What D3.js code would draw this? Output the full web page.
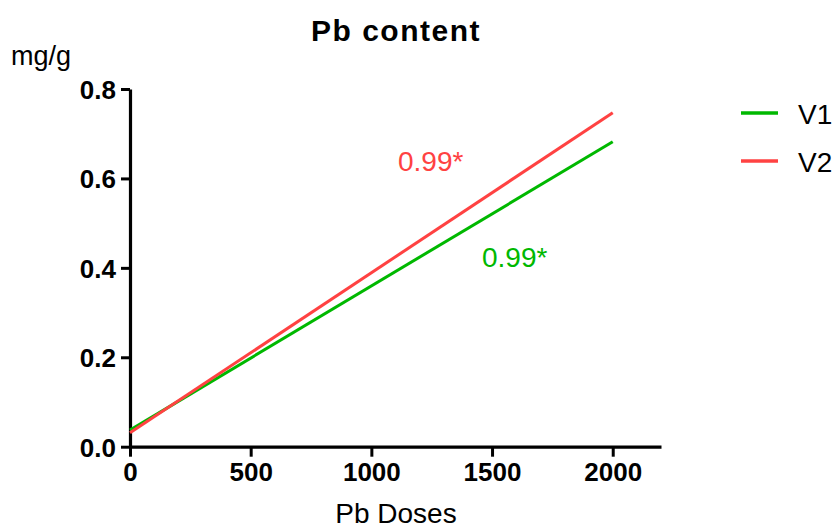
<!DOCTYPE html>
<html>
<head>
<meta charset="utf-8">
<script src="https://cdn.jsdelivr.net/npm/d3@7"></script>
<style>
  html, body { margin: 0; padding: 0; background: #fff; }
  svg { display: block; font-family: "Liberation Sans", Arial, sans-serif; }
</style>
</head>
<body>
<svg id="chart" width="837" height="530"></svg>
<script>
// Regression lines of Pb content against Pb dose (fitted end points)
const doses = [0, 2000];
const v1 = [0.037, 0.682];
const v2 = [0.031, 0.747];
const seriesNames = ["V1", "V2"];
const seriesColors = ["#00b800", "#ff4242"];
const rLabels = ["0.99*", "0.99*"];
const xTicks = [0, 500, 1000, 1500, 2000];
const yTicks = [0.0, 0.2, 0.4, 0.6, 0.8];

const svg = d3.select("#chart");
const margin = { left: 130, top: 89, right: 176, bottom: 83 };
const W = 837, H = 530;

const x = d3.scaleLinear().domain([0, 2200]).range([margin.left, W - margin.right]);
const y = d3.scaleLinear().domain([0, 0.8]).range([H - margin.bottom - 0.3, margin.top]);

// Title and axis titles
svg.append("text")
  .attr("x", 396).attr("y", 41)
  .attr("text-anchor", "middle")
  .attr("font-size", 30).attr("font-weight", "bold")
  .attr("letter-spacing", 1.5)
  .text("Pb content");

svg.append("text")
  .attr("x", 11).attr("y", 65)
  .attr("font-size", 27)
  .text("mg/g");

svg.append("text")
  .attr("x", 396).attr("y", 523)
  .attr("text-anchor", "middle")
  .attr("font-size", 28)
  .text("Pb Doses");

// Axes
const xAxis = d3.axisBottom(x).tickValues(xTicks).tickSize(10).tickPadding(6).tickSizeOuter(0)
  .tickFormat(d3.format("d"));
const yAxis = d3.axisLeft(y).tickValues(yTicks).tickSize(9).tickPadding(5).tickSizeOuter(0)
  .tickFormat(d3.format(".1f"));

const gx = svg.append("g").attr("transform", `translate(0,${y(0)})`).call(xAxis);
const gy = svg.append("g").attr("transform", `translate(${x(0)},0)`).call(yAxis);

[gx, gy].forEach(g => {
  g.select(".domain").attr("stroke", "#000").attr("stroke-width", 3.2);
  g.selectAll(".tick line").attr("stroke", "#000").attr("stroke-width", 3);
  g.selectAll(".tick text")
    .attr("fill", "#000")
    .attr("font-size", 26)
    .attr("font-weight", "bold")
    .attr("font-family", "Liberation Sans, Arial, sans-serif");
});
gy.selectAll(".tick text").attr("dy", "0.36em");

// Regression lines
const line = d3.line().x(d => x(d[0])).y(d => y(d[1]));
const series = [v1, v2];
series.forEach((vals, i) => {
  svg.append("path")
    .datum(doses.map((d, j) => [d, vals[j]]))
    .attr("fill", "none")
    .attr("stroke", seriesColors[i])
    .attr("stroke-width", 3)
    .attr("d", line);
});

// Correlation labels
const rPos = [[482, 267], [398, 171]];
rLabels.forEach((t, i) => {
  svg.append("text")
    .attr("x", rPos[i][0]).attr("y", rPos[i][1])
    .attr("font-size", 28)
    .attr("fill", seriesColors[i])
    .text(t);
});

// Legend
const legend = svg.append("g");
seriesNames.forEach((name, i) => {
  const ly = 113 + i * 48;
  legend.append("line")
    .attr("x1", 741).attr("x2", 778)
    .attr("y1", ly).attr("y2", ly)
    .attr("stroke", seriesColors[i])
    .attr("stroke-width", 3.5);
  legend.append("text")
    .attr("x", 798).attr("y", ly + 10.5)
    .attr("font-size", 28)
    .attr("fill", "#000")
    .text(name);
});
</script>
</body>
</html>
